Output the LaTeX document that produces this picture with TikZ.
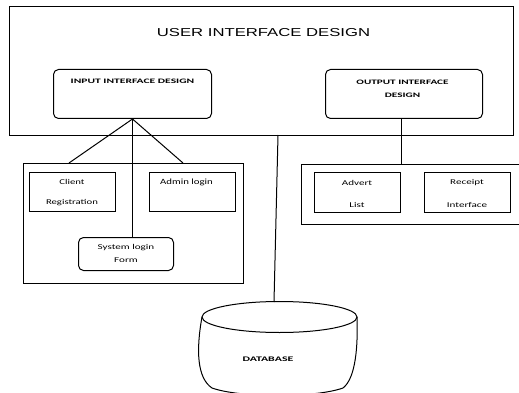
\documentclass[tikz,border=0pt]{standalone}
\usepackage{fontspec}
\setmainfont{Carlito}
\newfontfamily\titlefont{Liberation Sans}
\newcommand{\sx}[2]{\scalebox{#1}[1]{#2}}
\begin{document}
\begin{tikzpicture}[x=1pt,y=-1pt,line width=1pt,
  sq/.style={draw,rectangle},
  rnd/.style={draw,rectangle,rounded corners=5pt},
  lbl/.style={font=\fontsize{7.4}{8}\selectfont,inner sep=0pt},
  capl/.style={font=\fontsize{6.8}{7}\selectfont\bfseries,inner sep=0pt},
]
\useasboundingbox (0,0) rectangle (519,393);
% big box
\node[sq,anchor=north west,minimum width=504pt,minimum height=129pt] (ui) at (9,6) {};
\node[inner sep=0pt,font=\titlefont\fontsize{11.5}{13}\selectfont] (uit) at (263.5,33) {\sx{1.45}{USER INTERFACE DESIGN}};
% input / output boxes
\node[rnd,anchor=north west,minimum width=158pt,minimum height=49pt] (in) at (53,69) {};
\node[capl] (int) at (132.5,81) {\sx{1.7}{INPUT INTERFACE DESIGN}};
\node[rnd,anchor=north west,minimum width=157pt,minimum height=49pt] (out) at (325,69) {};
\node[capl] (outt1) at (402.5,82) {\sx{1.65}{OUTPUT INTERFACE}};
\node[capl] (outt2) at (402.5,95) {\sx{1.65}{DESIGN}};
% left group
\node[sq,anchor=north west,minimum width=220pt,minimum height=120pt] (lg) at (23,163) {};
\node[sq,anchor=north west,minimum width=86pt,minimum height=39pt] (cr) at (29,172) {};
\node[lbl] (crt1) at (72,182) {\sx{1.45}{Client}};
\node[lbl] (crt2) at (72,203) {\sx{1.45}{Registration}};
\node[sq,anchor=north west,minimum width=86pt,minimum height=39pt] (al) at (149,172) {};
\node[lbl,font=\fontsize{8}{9}\selectfont] (alt) at (186.5,182) {\sx{1.35}{Admin login}};
\node[rnd,anchor=north west,minimum width=95pt,minimum height=33pt] (sl) at (78,237) {};
\node[lbl] (slt1) at (126,248) {\sx{1.5}{System login}};
\node[lbl] (slt2) at (126,260) {\sx{1.5}{Form}};
\coordinate (lgA) at (69,163);
\coordinate (lgB) at (183,163);
\draw (in.south) -- (lgA);
\draw (in.south) -- (lgB);
\draw (in.south) -- (sl.north -| in.south);
% right group
\node[sq,anchor=north west,minimum width=225pt,minimum height=60pt] (rg) at (301,164) {};
\node[sq,anchor=north west,minimum width=86pt,minimum height=40pt] (ad) at (314,172) {};
\node[lbl] (adt1) at (357,183) {\sx{1.5}{Advert}};
\node[lbl] (adt2) at (357,205) {\sx{1.5}{List}};
\node[sq,anchor=north west,minimum width=86pt,minimum height=40pt] (rc) at (424,172) {};
\node[lbl] (rct1) at (467,183) {\sx{1.5}{Receipt}};
\node[lbl] (rct2) at (467,205) {\sx{1.5}{Interface}};
\coordinate (rgT) at (401,164);
\draw (out.south -| rgT) -- (rgT);
% database
\coordinate (dbtop) at (274,302);
\coordinate (uiB) at (278,135);
\draw (uiB) -- (dbtop);
\draw (279.5,317) ellipse [x radius=77.5, y radius=15.5];
\draw (202,317) .. controls (196,350) and (197,378) .. (212,388)
      .. controls (240,398) and (315,398) .. (343,388)
      .. controls (356,378) and (358,345) .. (357,317);
\node[lbl,font=\fontsize{7}{8}\selectfont\bfseries] (db) at (268,359) {\sx{1.7}{DATABASE}};
\end{tikzpicture}
\end{document}
